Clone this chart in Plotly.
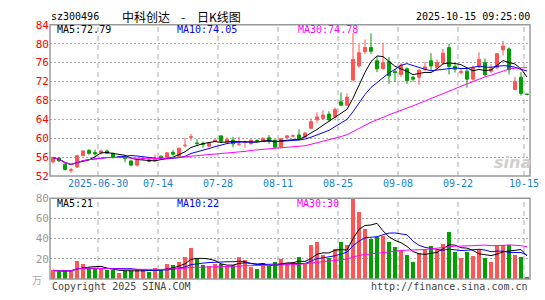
import plotly.graph_objects as go
import pandas as pd

# ---------------- data ----------------
dates = [
    "2025-06-18", "2025-06-19", "2025-06-20", "2025-06-23", "2025-06-24", "2025-06-25", "2025-06-26", "2025-06-27",
    "2025-06-30", "2025-07-01", "2025-07-02", "2025-07-03", "2025-07-04",
    "2025-07-07", "2025-07-08", "2025-07-09", "2025-07-10", "2025-07-11",
    "2025-07-14", "2025-07-15", "2025-07-16", "2025-07-17", "2025-07-18",
    "2025-07-21", "2025-07-22", "2025-07-23", "2025-07-24", "2025-07-25",
    "2025-07-28", "2025-07-29", "2025-07-30", "2025-07-31", "2025-08-01",
    "2025-08-04", "2025-08-05", "2025-08-06", "2025-08-07", "2025-08-08",
    "2025-08-11", "2025-08-12", "2025-08-13", "2025-08-14", "2025-08-15",
    "2025-08-18", "2025-08-19", "2025-08-20", "2025-08-21", "2025-08-22",
    "2025-08-25", "2025-08-26", "2025-08-27", "2025-08-28", "2025-08-29",
    "2025-09-01", "2025-09-02", "2025-09-03", "2025-09-04", "2025-09-05",
    "2025-09-08", "2025-09-09", "2025-09-10", "2025-09-11", "2025-09-12",
    "2025-09-15", "2025-09-16", "2025-09-17", "2025-09-18", "2025-09-19",
    "2025-09-22", "2025-09-23", "2025-09-24", "2025-09-25", "2025-09-26",
    "2025-09-29", "2025-09-30", "2025-10-09", "2025-10-10",
    "2025-10-13", "2025-10-14", "2025-10-15",
]

opens = [55.0, 55.8, 54.5, 53.2, 53.9, 56.3, 57.4, 56.95, 56.9, 57.3,
         56.7, 56.0, 56.05, 55.2, 54.3, 55.6, 55.4, 55.2, 56.2, 55.9,
         57.0, 56.1, 58.4, 60.2, 59.0, 58.9, 58.3, 59.35, 60.5, 59.15,
         59.6, 58.7, 59.1, 58.8, 59.5, 59.35, 60.1, 59.6, 58.1, 60.1,
         60.45, 60.7, 60.2, 62.1, 63.9, 64.2, 65.1, 64.5, 67.7, 67.0,
         72.3, 75.3, 78.3, 79.2, 76.4, 74.7, 76.2, 74.1, 73.5, 74.7,
         72.9, 72.9, 74.5, 76.4, 74.9, 75.9, 79.2, 75.2, 73.9, 74.2,
         72.5, 75.1, 76.0, 74.2, 74.9, 78.7, 78.9, 70.3, 72.9, 69.3]
highs = [56.1, 56.0, 54.6, 53.7, 56.5, 57.4, 57.7, 57.6, 57.6, 57.6,
         57.0, 56.3, 56.2, 55.3, 55.4, 55.9, 55.6, 56.5, 56.3, 57.0,
         57.5, 57.9, 60.1, 60.9, 59.8, 59.3, 59.1, 59.7, 60.5, 60.2,
         60.3, 60.3, 59.5, 59.7, 59.8, 60.1, 60.7, 59.7, 60.0, 60.7,
         60.8, 61.9, 61.3, 64.2, 65.5, 65.9, 65.7, 66.5, 69.7, 69.5,
         82.3, 79.9, 80.9, 82.2, 77.3, 80.2, 77.2, 74.7, 75.9, 75.0,
         73.2, 74.6, 76.2, 78.0, 76.7, 78.9, 80.0, 75.7, 74.9, 75.0,
         75.4, 78.2, 76.9, 75.7, 78.0, 80.6, 79.2, 73.0, 74.0, 69.3]
lows = [54.6, 55.0, 53.2, 52.7, 53.7, 56.2, 56.5, 56.3, 56.6, 56.6,
        55.7, 55.8, 54.9, 54.2, 54.0, 55.4, 54.9, 55.0, 55.5, 55.8,
        56.3, 56.0, 58.1, 59.5, 58.3, 58.0, 58.2, 59.2, 59.2, 59.0,
        58.1, 58.4, 58.0, 58.7, 59.2, 59.2, 58.8, 58.0, 58.0, 60.0,
        60.2, 59.5, 60.0, 61.9, 63.2, 63.9, 63.5, 64.2, 66.8, 66.8,
        72.2, 74.9, 77.8, 77.8, 74.0, 74.5, 71.5, 71.9, 73.0, 71.5,
        72.0, 71.3, 74.3, 74.2, 74.5, 75.5, 73.5, 73.9, 73.5, 70.7,
        72.2, 74.8, 73.2, 73.8, 74.6, 77.5, 73.5, 70.2, 69.0, 69.3]
closes = [55.9, 55.2, 53.4, 53.3, 56.3, 57.3, 56.8, 56.7, 57.3, 56.8,
          56.0, 56.1, 55.7, 54.3, 55.3, 55.7, 55.1, 55.6, 55.7, 56.9,
          56.6, 57.9, 58.5, 60.3, 58.9, 58.7, 59.0, 59.6, 59.35, 59.8,
          58.8, 58.75, 59.2, 59.6, 59.45, 60.0, 59.35, 58.1, 59.9, 60.5,
          60.5, 59.7, 61.1, 63.5, 64.5, 64.9, 63.9, 66.1, 67.0, 68.7,
          76.7, 78.1, 79.2, 78.4, 74.7, 76.0, 73.2, 73.9, 75.5, 72.2,
          72.5, 74.4, 75.1, 75.3, 76.0, 78.0, 75.2, 74.6, 74.1, 72.5,
          74.9, 76.7, 73.4, 74.7, 77.9, 79.5, 74.5, 72.0, 69.5, 69.3]
volumes = [8.6, 7.0, 8.6, 7.9, 17.5, 14.3, 10.5, 10.5, 9.8, 8.6,
           8.6, 6.0, 7.9, 7.9, 9.8, 8.6, 7.0, 10.8, 8.6, 14.6,
           13.7, 16.2, 21.9, 30.8, 19.4, 13.7, 13.0, 14.6, 14.3, 13.0,
           13.7, 21.3, 18.1, 11.1, 9.8, 15.6, 13.0, 17.0, 19.4, 14.6,
           16.2, 21.0, 15.6, 33.7, 35.9, 23.2, 20.3, 29.8, 36.8, 33.0,
           80.0, 66.3, 48.9, 39.4, 41.3, 42.5, 36.8, 31.1, 27.9, 23.2,
           16.8, 25.7, 28.3, 32.7, 28.3, 34.0, 46.3, 26.3, 20.0, 26.3,
           22.5, 29.8, 20.3, 16.8, 33.7, 33.7, 33.7, 23.2, 21.6, 1.6]

label_dates = ["2025-06-30", "2025-07-14", "2025-07-28", "2025-08-11",
               "2025-08-25", "2025-09-08", "2025-09-22", "2025-10-15"]
label_texts = ["2025-06-30", "07-14", "07-28", "08-11", "08-25", "09-08", "09-22", "10-15"]
price_ticks = [52, 56, 60, 64, 68, 72, 76, 80, 84]
vol_ticks = [20, 40, 60, 80]

stock_code = "sz300496"
title_parts = ["中科创达", "-", "日K线图"]
time_text = "2025-10-15 09:25:00"
ma_price_texts = ["MA5:72.79", "MA10:74.05", "MA30:74.78"]
ma_vol_texts = ["MA5:21", "MA10:22", "MA30:30"]

# ---------------- styles ----------------
W, H = 545, 300
RED = "#ff5555"
GREEN = "#00a000"
MA_COLORS = ["#000000", "#0000ff", "#ff00ff"]
FRAME = "#999999"
GRID = "#aaaaaa"
MONO = "DejaVu Sans Mono, monospace"
CJK = "Noto Sans CJK SC, sans-serif"

X0, X1 = 50, 530
P_TOP, P_BOT = 19.7, 177.7
V_TOP, V_BOT = 201.0, 285.3


def px(x):
    return x / W


def py(y):
    return 1 - y / H


xs = list(range(len(dates)))

# colours per bar (direction)
bar_colors = []
for i, (o, c) in enumerate(zip(opens, closes)):
    if c > o:
        bar_colors.append(RED)
    elif c < o:
        bar_colors.append(GREEN)
    else:
        prev = closes[i - 1] if i > 0 else c
        bar_colors.append(RED if c >= prev else GREEN)

cs = pd.Series(closes)
vs = pd.Series(volumes)
ma_windows = [5, 10, 30]

fig = go.Figure()

fig.add_trace(go.Candlestick(
    x=xs, open=opens, high=highs, low=lows, close=closes,
    increasing=dict(line=dict(color=RED, width=1), fillcolor=RED),
    decreasing=dict(line=dict(color=GREEN, width=1), fillcolor=GREEN),
    whiskerwidth=0, xaxis="x", yaxis="y", hoverinfo="skip",
))
for w, col in zip(ma_windows, MA_COLORS):
    fig.add_trace(go.Scatter(
        x=xs, y=cs.rolling(w, min_periods=1).mean(), mode="lines",
        line=dict(color=col, width=1), xaxis="x", yaxis="y", hoverinfo="skip",
    ))

fig.add_trace(go.Bar(
    x=xs, y=volumes, marker=dict(color=bar_colors, line=dict(width=0)),
    width=0.82, xaxis="x2", yaxis="y2", hoverinfo="skip",
))
for w, col in zip(ma_windows, MA_COLORS):
    fig.add_trace(go.Scatter(
        x=xs, y=vs.rolling(w, min_periods=1).mean(), mode="lines",
        line=dict(color=col, width=1), xaxis="x2", yaxis="y2", hoverinfo="skip",
    ))

xr = [-0.5, len(dates) - 0.5]
common_x = dict(range=xr, showticklabels=False, showgrid=False, zeroline=False,
                showline=False, ticks="", fixedrange=True)

shapes = []
# frames
for top, bot in [(P_TOP, P_BOT), (V_TOP, V_BOT)]:
    shapes.append(dict(type="rect", xref="paper", yref="paper",
                       x0=px(X0), x1=px(X1), y0=py(bot), y1=py(top),
                       line=dict(color=FRAME, width=1.5), layer="above"))
# vertical dashed lines
for d in label_dates:
    xi = dates.index(d) - 0.5
    for top, bot in [(P_TOP, P_BOT), (V_TOP, V_BOT)]:
        shapes.append(dict(type="line", xref="x", yref="paper",
                           x0=xi, x1=xi, y0=py(bot), y1=py(top),
                           line=dict(color=GRID, width=1, dash="5px,4px"), layer="below"))

annotations = []


def add_text(text, x, y, color, size=10, xanchor="left", font=MONO, xref="paper"):
    annotations.append(dict(text=text, x=x, y=py(y), xref=xref, yref="paper",
                            xanchor=xanchor, yanchor="middle", showarrow=False,
                            font=dict(family=font, size=size, color=color)))


add_text(stock_code, px(49), 11, "#000000")
add_text(title_parts[0], px(120), 11, "#000000", size=12, font=CJK)
add_text(title_parts[1], px(183), 11, "#000000", size=12, font=CJK, xanchor="center")
add_text(title_parts[2], px(195), 11, "#000000", size=12, font=CJK)
add_text(time_text, px(532), 11, "#000000", xanchor="right")

for t, col, x in zip(ma_price_texts, MA_COLORS, [55, 175, 296]):
    add_text(t, px(x), 25, col)
for t, col, x in zip(ma_vol_texts, MA_COLORS, [55, 175, 295]):
    add_text(t, px(x), 206, col)

for d, t in zip(label_dates, label_texts):
    add_text(t, dates.index(d) - 0.5, 186, "#1a7fd0", xanchor="center", xref="x")

add_text("万", px(44), 286, "#aaaaaa", size=10, xanchor="right", font=CJK)
add_text("Copyright 2025 SINA.COM", px(50), 293, "#444444")
add_text("http://finance.sina.com.cn", px(530), 293, "#444444", xanchor="right")

# watermark
annotations.append(dict(text="<b><i>sina</i></b>", x=px(512), y=py(164), xref="paper", yref="paper",
                        xanchor="center", yanchor="middle", showarrow=False,
                        font=dict(family="DejaVu Sans, sans-serif", size=16, color="#d6cccc")))

fig.update_layout(
    width=W, height=H, margin=dict(l=0, r=0, t=0, b=0),
    paper_bgcolor="white", plot_bgcolor="white", showlegend=False,
    boxgap=0.3,
    xaxis=dict(domain=[px(X0), px(X1)], anchor="y", rangeslider=dict(visible=False), **common_x),
    xaxis2=dict(domain=[px(X0), px(X1)], anchor="y2", **common_x),
    yaxis=dict(domain=[py(P_BOT), py(P_TOP)], range=[52, 84], anchor="x",
               tickvals=price_ticks, ticks="", showline=False, zeroline=False,
               tickfont=dict(family=MONO, size=11, color="#ff0000"),
               showgrid=True, gridcolor=GRID, gridwidth=1, griddash="2px,2px", fixedrange=True),
    yaxis2=dict(domain=[py(V_BOT), py(V_TOP)], range=[0, 80], anchor="x2",
                tickvals=vol_ticks, ticks="", showline=False, zeroline=False,
                tickfont=dict(family=MONO, size=11, color="#999999"),
                showgrid=True, gridcolor=GRID, gridwidth=1, griddash="2px,2px", fixedrange=True),
    shapes=shapes, annotations=annotations,
    bargap=0,
)

fig.write_html("out.html")
